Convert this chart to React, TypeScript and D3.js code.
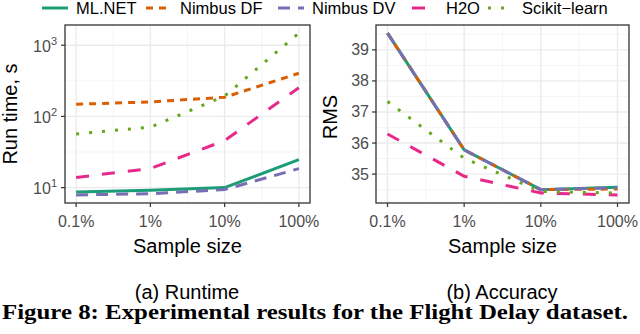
import React from 'react';
import * as d3 from 'd3';

const sampleLabels = ['0.1%', '1%', '10%', '100%'];
const sampleSizes = [0.1, 1, 10, 100];
const seriesNames = ['ML.NET', 'Nimbus DF', 'Nimbus DV', 'H2O', 'Scikit−learn'];
const seriesColors = ['#1B9E77', '#D95F02', '#7570B3', '#E7298A', '#66A61E'];
const seriesDash = [null, '7 6', '12 8', '13 13', '3 10'];

// run time in seconds (log scale)
const runMlnet = [8.7, 9.2, 10, 24.7];
const runNimbusDF = [148, 160, 186, 404];
const runNimbusDV = [7.9, 8.2, 9.4, 18.5];
const runH2O = [13.9, 18.5, 45.8, 253];
const runScikit = [56.8, 70.7, 193, 1480];

// accuracy (RMS)
const rmsMlnet = [39.54, 35.78, 34.5, 34.58];
const rmsNimbusDF = [39.54, 35.78, 34.5, 34.52];
const rmsNimbusDV = [39.54, 35.78, 34.5, 34.56];
const rmsH2O = [36.29, 34.93, 34.39, 34.33];
const rmsScikit = [37.34, 35.51, 34.44, 34.39];

const logTicks = [10, 100, 1000];
const logTickExp = ['1', '2', '3'];
const rmsTicks = [35, 36, 37, 38, 39];

const runSeries = [runMlnet, runNimbusDF, runNimbusDV, runH2O, runScikit];
const rmsSeries = [rmsMlnet, rmsNimbusDF, rmsNimbusDV, rmsH2O, rmsScikit];

const sans = 'Liberation Sans, Arial, Helvetica, sans-serif';
const top = 25;
const bottom = 203;

function xScaleFor(x0: number, x1: number) {
  const pad = Math.pow(10, 0.15);
  return d3.scaleLog().domain([sampleSizes[0] / pad, sampleSizes[3] * pad]).range([x0, x1]);
}

const Panel = ({ x0, x1, series, logY }: any) => {
  const x = xScaleFor(x0, x1);
  const all = series.flat();
  let y: any;
  let majors: number[];
  let minors: number[];
  if (logY) {
    const lo = Math.log10(d3.min(all) as number);
    const hi = Math.log10(d3.max(all) as number);
    const e = (hi - lo) * 0.05;
    y = d3.scaleLog().domain([Math.pow(10, lo - e), Math.pow(10, hi + e)]).range([bottom, top]);
    majors = logTicks;
    minors = [Math.pow(10, 1.5), Math.pow(10, 2.5)];
  } else {
    const lo = d3.min(all) as number;
    const hi = d3.max(all) as number;
    const e = (hi - lo) * 0.05;
    y = d3.scaleLinear().domain([lo - e, hi + e]).range([bottom, top]);
    majors = rmsTicks;
    minors = [34.5, 35.5, 36.5, 37.5, 38.5, 39.5];
  }
  const xMinors = [Math.pow(10, -0.5), Math.pow(10, 0.5), Math.pow(10, 1.5)];
  const line = d3.line<number>()
    .x((_, i) => x(sampleSizes[i]))
    .y((d) => y(d));

  return (
    <g>
      <rect x={x0} y={top} width={x1 - x0} height={bottom - top} fill="#fff" />
      {minors.map((m) => (
        <line key={'hm' + m} x1={x0} x2={x1} y1={y(m)} y2={y(m)} stroke="#F2F2F2" strokeWidth={0.8} />
      ))}
      {xMinors.map((m) => (
        <line key={'vm' + m} x1={x(m)} x2={x(m)} y1={top} y2={bottom} stroke="#F2F2F2" strokeWidth={0.8} />
      ))}
      {majors.map((m) => (
        <line key={'h' + m} x1={x0} x2={x1} y1={y(m)} y2={y(m)} stroke="#EBEBEB" strokeWidth={1.4} />
      ))}
      {sampleSizes.map((s) => (
        <line key={'v' + s} x1={x(s)} x2={x(s)} y1={top} y2={bottom} stroke="#EBEBEB" strokeWidth={1.4} />
      ))}
      {series.map((vals: number[], i: number) => (
        <path
          key={i}
          d={line(vals) || ''}
          fill="none"
          stroke={seriesColors[i]}
          strokeWidth={3}
          strokeDasharray={seriesDash[i] || undefined}
        />
      ))}
      <rect x={x0} y={top} width={x1 - x0} height={bottom - top} fill="none" stroke="#333" strokeWidth={1.3} />
      {sampleSizes.map((s, i) => (
        <g key={'xt' + s}>
          <line x1={x(s)} x2={x(s)} y1={bottom} y2={bottom + 4} stroke="#333" strokeWidth={1.2} />
          <text x={x(s)} y={227} textAnchor="middle" fontSize={16} fill="#4D4D4D" fontFamily={sans}>
            {sampleLabels[i]}
          </text>
        </g>
      ))}
      {majors.map((m, i) => (
        <g key={'yt' + m}>
          <line x1={x0 - 4} x2={x0} y1={y(m)} y2={y(m)} stroke="#333" strokeWidth={1.2} />
          {logY ? (
            <text x={x0 - 8} y={y(m) + 6.5} textAnchor="end" fontSize={16} fill="#4D4D4D" fontFamily={sans}>
              10<tspan dy={-7} fontSize={11}>{logTickExp[i]}</tspan>
            </text>
          ) : (
            <text x={x0 - 7} y={y(m) + 5.5} textAnchor="end" fontSize={16} fill="#4D4D4D" fontFamily={sans}>
              {m}
            </text>
          )}
        </g>
      ))}
      <text x={(x0 + x1) / 2} y={253} textAnchor="middle" fontSize={20} fill="#000" fontFamily={sans}>
        Sample size
      </text>
    </g>
  );
};

const legendKeyX = [42, 146, 278, 412, 488];

export default function App() {
  return (
    <svg width={640} height={334} style={{ position: 'absolute', left: 0, top: 0, background: '#fff' }}>
      {seriesNames.map((name, i) => (
        <g key={name}>
          <line
            x1={legendKeyX[i]}
            x2={legendKeyX[i] + 26}
            y1={8}
            y2={8}
            stroke={seriesColors[i]}
            strokeWidth={3}
            strokeDasharray={seriesDash[i] || undefined}
          />
          <text x={legendKeyX[i] + 34} y={14} fontSize={16.5} fill="#000" fontFamily={sans}>
            {name}
          </text>
        </g>
      ))}
      <Panel x0={65} x1={310} series={runSeries} logY={true} />
      <Panel x0={376} x1={629} series={rmsSeries} logY={false} />
      <text x={17} y={114} transform="rotate(-90 17 114)" textAnchor="middle" fontSize={20} fill="#000" fontFamily={sans}>
        Run time, s
      </text>
      <text x={337} y={117} transform="rotate(-90 337 117)" textAnchor="middle" fontSize={20} fill="#000" fontFamily={sans}>
        RMS
      </text>
      <text x={187} y={299} textAnchor="middle" fontSize={20} fill="#000" fontFamily={sans}>
        (a) Runtime
      </text>
      <text x={502} y={299} textAnchor="middle" fontSize={20} fill="#000" fontFamily={sans}>
        (b) Accuracy
      </text>
      <text
        x={2}
        y={319}
        fontSize={20}
        fontWeight="bold"
        fill="#000"
        fontFamily="Liberation Serif, DejaVu Serif, serif"
        textLength={626}
        lengthAdjust="spacingAndGlyphs"
      >
        Figure 8: Experimental results for the Flight Delay dataset.
      </text>
    </svg>
  );
}
